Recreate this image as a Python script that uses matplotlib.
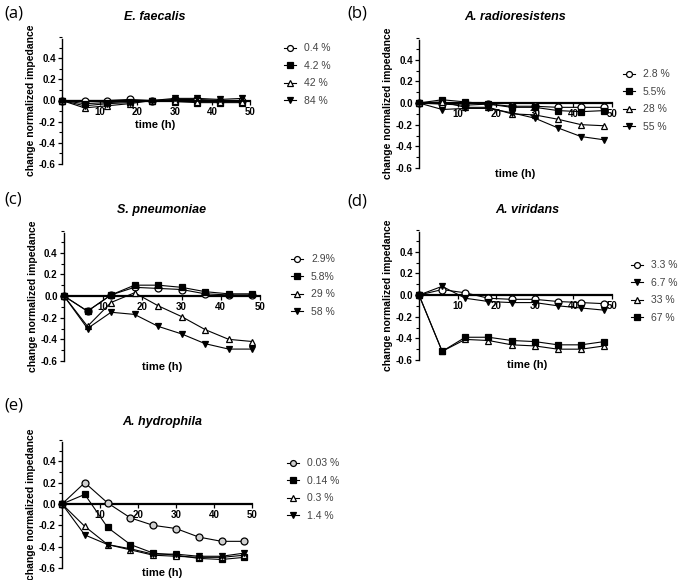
import numpy as np
import matplotlib
matplotlib.use("Agg")
import matplotlib.pyplot as plt
from matplotlib.ticker import MultipleLocator

plt.rcParams["font.family"] = ["Liberation Sans", "DejaVu Sans"]

# ----------------------------------------------------------------------
# Data
# ----------------------------------------------------------------------
time_h = [0, 6, 12, 18, 24, 30, 36, 42, 48]

faecalis_labels = ["0.4 %", "4.2 %", "42 %", "84 %"]
faecalis_04 = [0, 0.00, 0.00, 0.01, 0.00, 0.01, 0.01, 0.00, 0.00]
faecalis_42 = [0, -0.03, -0.02, -0.01, 0.00, -0.01, -0.02, -0.02, -0.02]
faecalis_420 = [0, -0.07, -0.05, -0.03, 0.00, 0.00, -0.01, -0.01, -0.01]
faecalis_840 = [0, -0.05, -0.03, -0.02, 0.00, 0.02, 0.02, 0.01, 0.02]

radio_labels = ["2.8 %", "5.5%", "28 %", "55 %"]
radio_28 = [0, -0.01, -0.02, -0.01, -0.03, -0.03, -0.04, -0.04, -0.04]
radio_55 = [0, 0.03, 0.01, -0.01, -0.04, -0.04, -0.07, -0.08, -0.07]
radio_280 = [0, 0.01, -0.04, -0.04, -0.10, -0.11, -0.15, -0.20, -0.21]
radio_550 = [0, -0.06, -0.05, -0.05, -0.09, -0.14, -0.23, -0.31, -0.34]

pneumo_labels = ["2.9%", "5.8%", "29 %", "58 %"]
pneumo_29 = [0, -0.14, 0.01, 0.08, 0.07, 0.06, 0.02, 0.01, 0.01]
pneumo_58 = [0, -0.14, 0.01, 0.10, 0.10, 0.08, 0.04, 0.02, 0.02]
pneumo_290 = [0, -0.28, -0.06, 0.03, -0.09, -0.19, -0.31, -0.40, -0.42]
pneumo_580 = [0, -0.30, -0.15, -0.17, -0.28, -0.35, -0.44, -0.49, -0.49]

viridans_labels = ["3.3 %", "6.7 %", "33 %", "67 %"]
viridans_33 = [0, 0.05, 0.02, -0.03, -0.04, -0.04, -0.06, -0.07, -0.08]
viridans_67 = [0, 0.08, -0.03, -0.06, -0.07, -0.07, -0.10, -0.12, -0.14]
viridans_330 = [0, -0.52, -0.41, -0.42, -0.46, -0.47, -0.50, -0.50, -0.47]
viridans_670 = [0, -0.52, -0.39, -0.39, -0.42, -0.43, -0.46, -0.46, -0.43]

hydro_labels = ["0.03 %", "0.14 %", "0.3 %", "1.4 %"]
hydro_003 = [0, 0.20, 0.01, -0.13, -0.20, -0.23, -0.31, -0.35, -0.35]
hydro_014 = [0, 0.09, -0.22, -0.38, -0.46, -0.48, -0.51, -0.52, -0.50]
hydro_03 = [0, -0.21, -0.38, -0.43, -0.48, -0.49, -0.50, -0.50, -0.48]
hydro_14 = [0, -0.29, -0.38, -0.42, -0.47, -0.47, -0.49, -0.49, -0.46]

# marker styles: (marker, facecolor)
OPEN_CIRCLE = ("o", "white")
GREY_CIRCLE = ("o", "#d0d0d0")
SQUARE = ("s", "black")
TRI_UP = ("^", "white")
TRI_DOWN = ("v", "black")

W, H = 685, 580

def fx(px):
    return px / W

def fy(py):
    return 1 - py / H

# one dict per panel; positions are in figure pixels
panels = [
    dict(letter="(a)", letter_px=(4, 13), title="E. faecalis", title_px=(155, 17),
         box=(62, 250, 37, 164),
         series=[faecalis_04, faecalis_42, faecalis_420, faecalis_840],
         labels=faecalis_labels, styles=[OPEN_CIRCLE, SQUARE, TRI_UP, TRI_DOWN],
         legend_px=(279, 38), xlabel_px=(155, 125)),
    dict(letter="(b)", letter_px=(347, 13), title="A. radioresistens", title_px=(515, 17),
         box=(419, 612, 38, 168),
         series=[radio_28, radio_55, radio_280, radio_550],
         labels=radio_labels, styles=[OPEN_CIRCLE, SQUARE, TRI_UP, TRI_DOWN],
         legend_px=(618, 64), xlabel_px=(515, 174)),
    dict(letter="(c)", letter_px=(4, 199), title="S. pneumoniae", title_px=(162, 210),
         box=(64, 260, 231, 361),
         series=[pneumo_29, pneumo_58, pneumo_290, pneumo_580],
         labels=pneumo_labels, styles=[OPEN_CIRCLE, SQUARE, TRI_UP, TRI_DOWN],
         legend_px=(286, 249), xlabel_px=(162, 367)),
    dict(letter="(d)", letter_px=(347, 202), title="A. viridans", title_px=(527, 210),
         box=(419, 612, 230, 360),
         series=[viridans_33, viridans_67, viridans_330, viridans_670],
         labels=viridans_labels, styles=[OPEN_CIRCLE, TRI_DOWN, TRI_UP, SQUARE],
         legend_px=(626, 255), xlabel_px=(527, 365)),
    dict(letter="(e)", letter_px=(4, 405), title="A. hydrophila", title_px=(162, 422),
         box=(62, 252, 440, 568),
         series=[hydro_003, hydro_014, hydro_03, hydro_14],
         labels=hydro_labels, styles=[GREY_CIRCLE, SQUARE, TRI_UP, TRI_DOWN],
         legend_px=(282, 453), xlabel_px=(162, 573)),
]

fig = plt.figure(figsize=(W / 100, H / 100), dpi=100)

for p in panels:
    left, right, ytop, ybot = p["box"]
    ax = fig.add_axes([fx(left), fy(ybot), (right - left) / W, (ybot - ytop) / H])
    for vals, lab, (mk, fc) in zip(p["series"], p["labels"], p["styles"]):
        ax.plot(time_h, vals, color="black", lw=0.8, marker=mk, ms=5,
                mfc=fc, mec="black", mew=0.9, label=lab, clip_on=False, zorder=3)

    ax.set_xlim(0, 50)
    ax.set_ylim(-0.6, 0.6)
    ax.spines["top"].set_visible(False)
    ax.spines["right"].set_visible(False)
    ax.spines["bottom"].set_position(("data", 0))
    ax.spines["bottom"].set_linewidth(1.6)
    ax.spines["left"].set_linewidth(1.0)
    ax.spines["left"].set_bounds(-0.6, 0.58)
    ax.set_xticks([10, 20, 30, 40, 50])
    ax.set_yticks([-0.6, -0.4, -0.2, 0.0, 0.2, 0.4])
    ax.yaxis.set_minor_locator(MultipleLocator(0.1))
    ax.set_yticklabels(["-0.6", "-0.4", "-0.2", "0.0", "0.2", "0.4"])
    ax.tick_params(axis="both", which="major", labelsize=7, length=3, width=0.9, pad=1.5)
    ax.tick_params(axis="y", which="minor", length=2, width=0.8)
    for t in ax.get_xticklabels() + ax.get_yticklabels():
        t.set_fontweight("bold")
    ax.set_ylabel("change normalized impedance", fontsize=7.5, fontweight="bold", labelpad=2)

    fig.text(fx(p["xlabel_px"][0]), fy(p["xlabel_px"][1]), "time (h)", fontsize=8,
             fontweight="bold", ha="center", va="center")
    fig.text(fx(p["title_px"][0]), fy(p["title_px"][1]), p["title"], fontsize=9,
             fontweight="bold", fontstyle="italic", ha="center", va="center")
    fig.text(fx(p["letter_px"][0]), fy(p["letter_px"][1]), p["letter"], fontsize=12,
             family=["Open Sans", "DejaVu Sans"], ha="left", va="center")

    leg = ax.legend(loc="upper left", bbox_to_anchor=(fx(p["legend_px"][0]), fy(p["legend_px"][1])),
                    bbox_transform=fig.transFigure, frameon=False, fontsize=7.5,
                    handlelength=1.1, handletextpad=0.8, labelspacing=0.72, borderpad=0,
                    markerscale=0.85)
    for t in leg.get_texts():
        t.set_color("#444444")

fig.savefig("out.png", dpi=100)
